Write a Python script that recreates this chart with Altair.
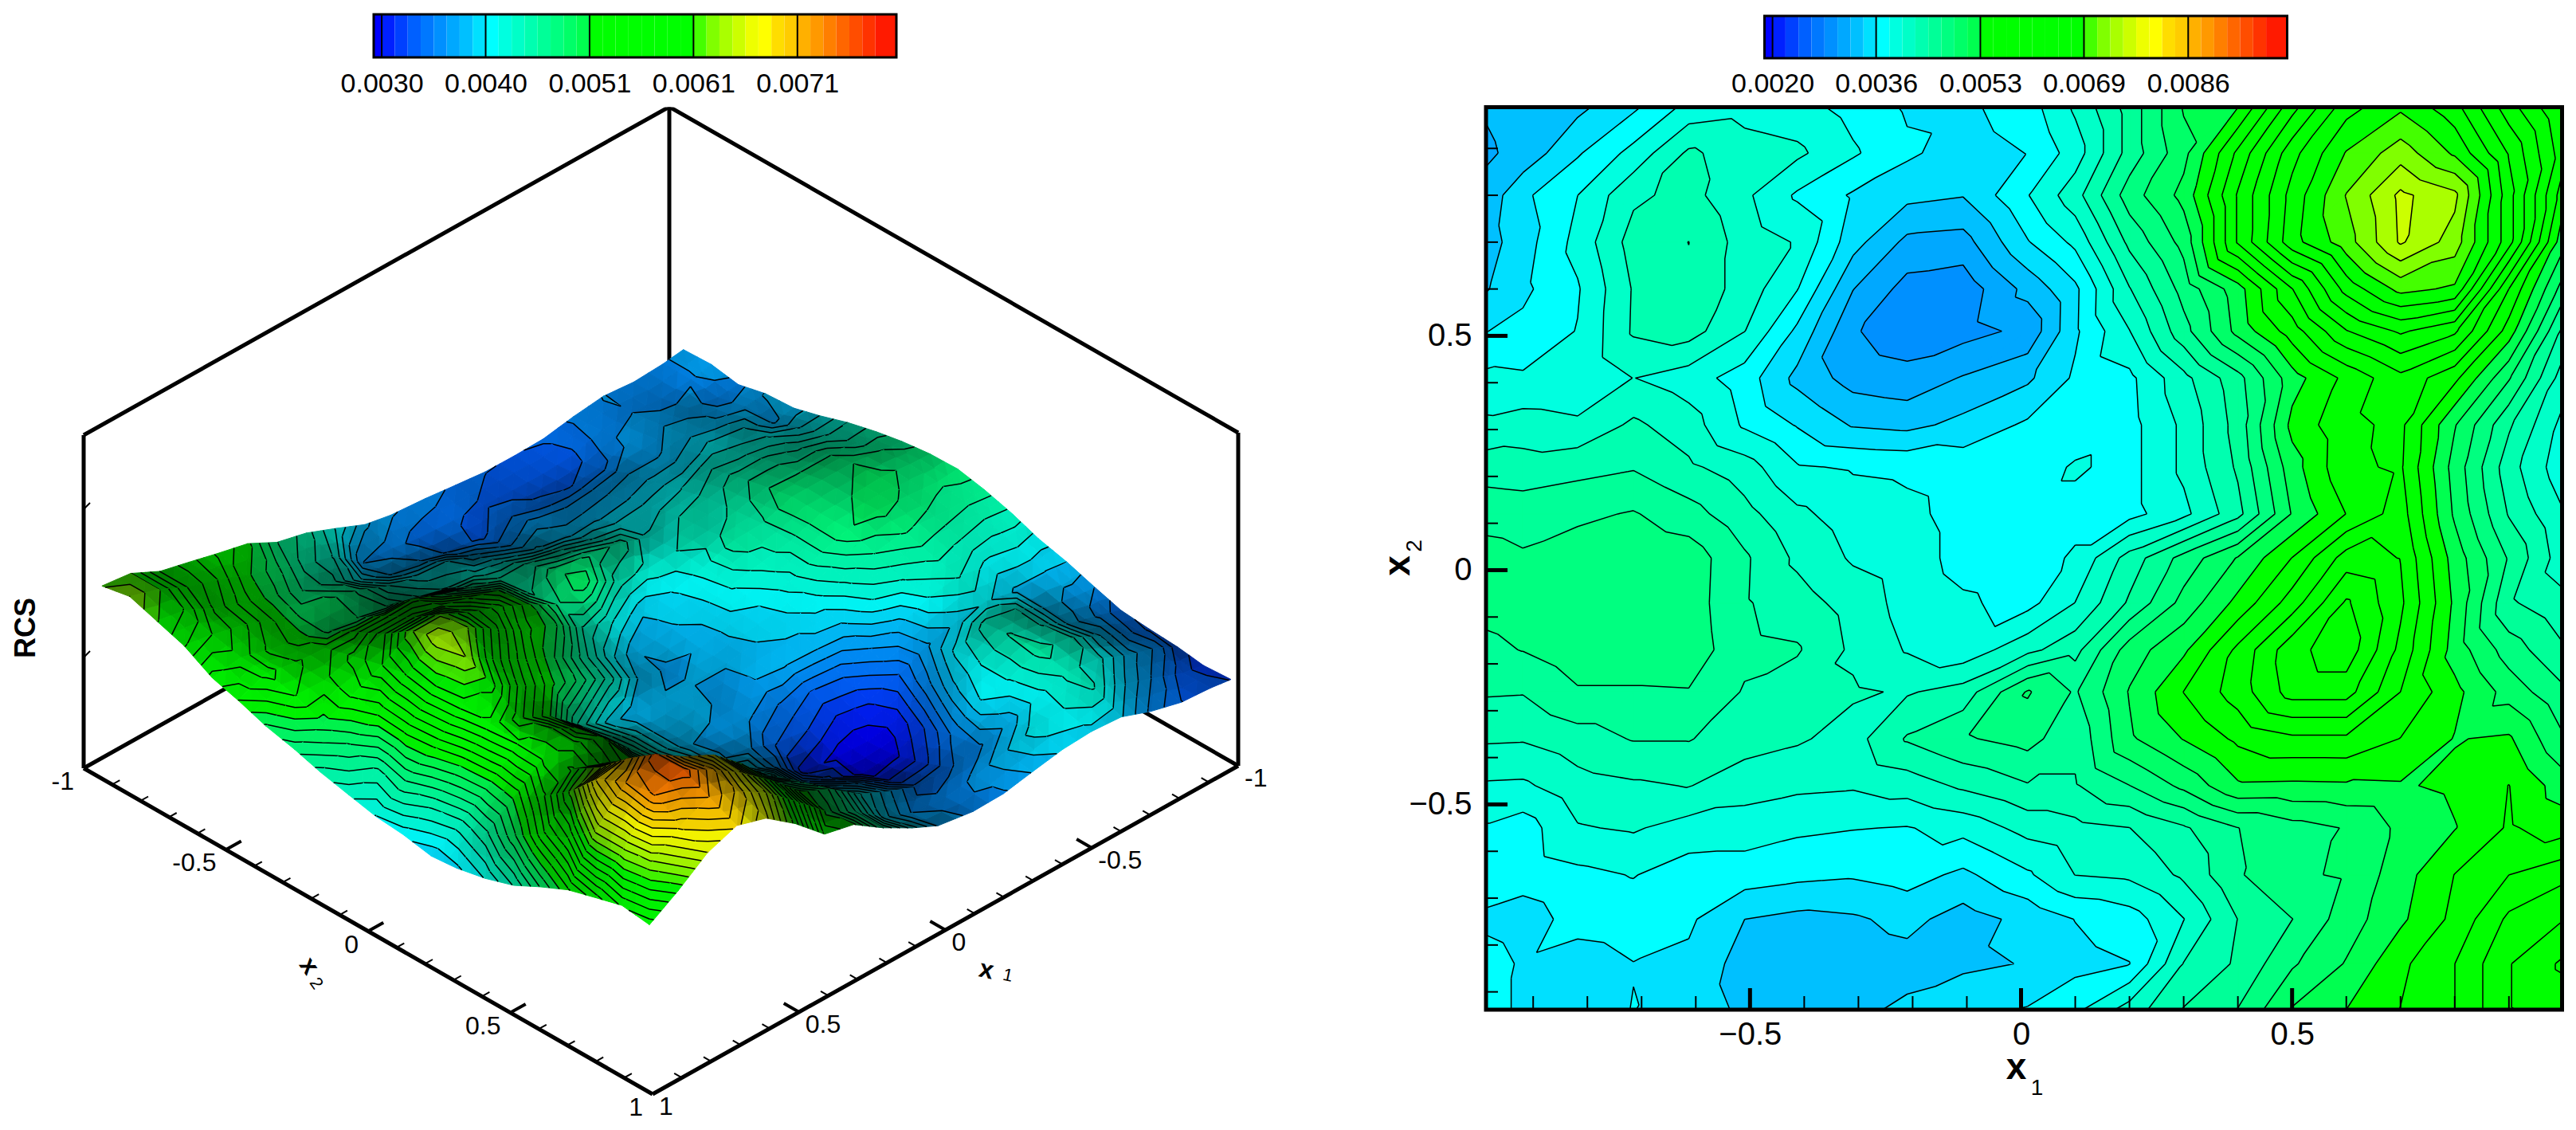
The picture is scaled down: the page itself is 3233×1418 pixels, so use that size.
import altair as alt
import numpy as np
import pandas as pd

# ---- data -----------------------------------------------------------------
X1 = [-0.988,-0.919,-0.818,-0.715,-0.613,-0.51,-0.413,-0.31,-0.21,-0.107,0.012,0.10,0.20,0.30,0.40,0.50,0.60,0.70,0.80,0.90,0.998]
X2 = [0.987,0.89,0.80,0.70,0.60,0.51,0.41,0.31,0.22,0.12,0.026,-0.07,-0.17,-0.26,-0.36,-0.46,-0.55,-0.65,-0.745,-0.84,-0.938]
# RCS x 1e4, one row per X2, one column per X1
RCS_E4 = [
[32.5,33.3,33.9,36.1,39.2,39.8,39.3,37.8,36.2,36.0,37.5,40.9,45.5,51.0,52.9,60.4,66.5,69.0,66.0,60.0,55.0],
[32.0,33.0,36.2,39.2,43.0,41.5,41.0,38.8,36.8,35.5,36.5,39.5,45.5,50.2,57.5,64.5,69.5,72.5,69.0,63.0,56.0],
[33.0,36.0,38.5,42.2,43.3,41.0,38.2,36.2,35.0,34.5,38.4,41.8,47.8,51.5,59.3,66.0,71.5,76.0,74.0,64.0,54.0],
[33.5,35.5,39.2,43.5,44.7,41.7,40.4,35.2,31.8,31.5,36.3,39.0,45.2,49.5,59.3,66.5,70.5,75.8,72.5,64.0,51.7],
[34.2,36.0,38.3,42.8,44.3,41.7,38.6,32.4,29.5,29.0,33.0,36.0,42.5,47.5,52.0,59.0,66.0,70.0,69.0,57.0,48.0],
[36.4,37.0,38.6,42.9,43.5,40.6,36.0,30.5,29.0,29.5,30.8,36.1,40.5,46.0,51.5,56.0,61.0,63.5,61.5,54.0,44.3],
[39.0,38.8,38.7,40.6,39.5,37.5,33.8,31.5,31.0,32.5,34.0,36.8,38.0,42.0,46.0,52.0,55.5,58.5,55.5,49.0,41.7],
[41.0,41.5,41.0,43.0,41.5,38.2,36.3,34.2,33.8,35.0,36.8,37.0,37.8,41.0,45.5,53.5,56.5,57.5,51.0,45.0,40.0],
[43.7,43.5,44.0,44.5,43.0,41.5,38.7,38.3,38.1,37.7,37.2,38.8,37.8,41.0,45.0,52.0,56.6,57.3,50.0,43.5,39.3],
[46.0,45.8,46.3,46.9,45.5,43.3,41.0,39.6,39.0,37.8,37.8,37.8,37.8,40.0,44.0,51.0,55.0,58.0,50.5,44.5,40.8],
[47.5,47.0,47.8,48.5,47.9,45.0,42.2,40.3,39.5,37.8,37.5,38.8,43.5,47.5,51.0,55.0,60.0,59.0,52.0,46.5,41.5],
[47.3,47.6,48.5,48.0,47.8,44.9,43.5,41.8,39.8,38.8,37.8,40.6,45.0,49.5,53.5,58.0,63.5,59.5,52.5,45.0,43.2],
[46.3,46.8,48.0,48.0,48.0,45.2,44.9,42.2,40.4,39.2,42.0,44.0,49.8,52.5,57.5,62.5,64.5,58.5,52.0,47.8,45.0],
[44.9,44.8,46.5,46.5,46.6,44.5,43.5,42.9,42.4,43.5,49.0,46.5,51.0,55.0,58.0,62.0,62.0,57.0,53.5,50.0,47.2],
[42.9,42.8,43.8,44.8,44.8,43.5,42.9,41.8,44.9,46.5,47.5,45.2,50.5,53.0,55.4,56.6,56.6,54.9,52.8,53.2,49.1],
[40.3,40.2,41.8,42.3,42.7,41.5,41.0,40.8,41.5,43.0,44.5,44.5,46.7,49.3,52.6,52.5,52.6,52.7,53.3,55.0,51.9],
[38.3,37.5,40.4,40.8,39.7,39.5,38.9,38.6,38.4,39.2,41.3,42.0,42.6,44.4,46.7,48.0,48.9,51.3,52.8,55.2,54.0],
[37.8,37.3,38.0,38.6,37.5,37.5,37.0,36.7,37.3,36.0,38.2,40.6,41.0,43.0,46.5,48.5,49.0,52.0,55.0,57.0,58.5],
[36.0,35.5,37.2,37.5,36.8,34.4,33.8,34.1,35.0,33.5,35.0,36.5,37.5,40.5,44.7,46.7,49.8,52.5,55.5,59.5,61.0],
[37.3,36.2,35.5,36.4,36.0,33.5,33.0,33.2,33.6,34.0,34.5,35.8,36.4,42.7,45.0,48.5,51.0,54.5,57.0,61.0,63.5],
[37.0,36.2,35.7,36.5,35.5,34.0,33.8,33.9,34.8,35.8,36.6,38.0,41.5,44.8,46.8,51.0,52.9,55.0,57.0,61.0,62.0],
]
LEFT_TICKS = [0.00300, 0.00403, 0.00506, 0.00609, 0.00712]     # 0.0030 ... 0.0071
RIGHT_TICKS = [0.00200, 0.00364, 0.00529, 0.00693, 0.00858]    # 0.0020 ... 0.0086
BAND_COLORS = ['#0000ff',
 '#0020ff','#0040ff','#0060ff','#0078ff','#0090ff','#00a8ff','#00c0ff','#00e0ff',
 '#00ffff','#00ffe0','#00ffc8','#00ffb0','#00ff98','#00ff80','#00ff68','#00ff50',
 '#00ff00','#00ff00','#00ff00','#00ff00','#00ff00','#00ff00','#00ff00','#00ff00',
 '#44ff00','#80ff00','#aaff00','#ccff00','#eeff00','#ffff00','#ffdd00','#ffcc00',
 '#ffb000','#ff9900','#ff7f00','#ff6600','#ff4d00','#ff3300','#ff1a00']
AXIS_TICKS = [-0.5, 0, 0.5]
MINOR_TICKS = [-0.9,-0.8,-0.7,-0.6,-0.4,-0.3,-0.2,-0.1,0.1,0.2,0.3,0.4,0.6,0.7,0.8,0.9]
CUBE_TICK_LABELS = [(-1,'-1'),(-0.5,'-0.5'),(0,'0'),(0.5,'0.5'),(1,'1')]

FONT = 'Liberation Sans'
Z = np.array(RCS_E4) * 1e-4
xs = np.array(X1)
ys = np.array(X2)
NR, NC = Z.shape

# ---- contour helpers ------------------------------------------------------
def clip_tri(poly, lev, keep_above):
    out = []
    n = len(poly)
    for i in range(n):
        p, q = poly[i], poly[(i + 1) % n]
        ip = (p[2] >= lev) == keep_above
        iq = (q[2] >= lev) == keep_above
        if ip:
            out.append(p)
        if ip != iq:
            t = (lev - p[2]) / (q[2] - p[2])
            out.append((p[0] + t*(q[0]-p[0]), p[1] + t*(q[1]-p[1]), lev))
    return out

def band_pieces(tri, levels):
    """yield (band index, polygon) with band -1 below levels[0]"""
    lo, hi = min(v[2] for v in tri), max(v[2] for v in tri)
    for b in range(-1, len(levels)):
        a = levels[b] if b >= 0 else -1e9
        c = levels[b+1] if b + 1 < len(levels) else 1e9
        if hi < a or lo >= c:
            continue
        poly = clip_tri(list(tri), a, True) if b >= 0 else list(tri)
        if poly and b + 1 < len(levels):
            poly = clip_tri(poly, c, False)
        if len(poly) >= 3:
            yield b, poly

def iso_segments(tri, levels):
    segs = []
    for lev in levels:
        pts = []
        for i in range(3):
            p, q = tri[i], tri[(i+1) % 3]
            if (p[2] >= lev) != (q[2] >= lev):
                t = (lev - p[2]) / (q[2] - p[2])
                pts.append((p[0] + t*(q[0]-p[0]), p[1] + t*(q[1]-p[1])))
        if len(pts) == 2:
            segs.append(pts)
    return segs

def make_levels(ticks):
    step = (ticks[-1] - ticks[0]) / (len(ticks) - 1) / 8
    return [ticks[0] + k*step for k in range(0, 39)], step

def ring(poly):
    r = [[round(p[0], 1), round(p[1], 1)] for p in poly]
    return r + [r[0]]

def feat(gtype, coords, fill, stroke, w):
    return {'type': 'Feature', 'geometry': {'type': gtype, 'coordinates': coords},
            'properties': {'fill': fill, 'stroke': stroke, 'w': w}}

def seg_coords(segs):
    return [[[round(a, 1), round(b, 1)] for a, b in s] for s in segs]

def triangles(px, py):
    for j in range(NR - 1):
        for i in range(NC - 1):
            a = (px[j, i], py[j, i], Z[j, i])
            b = (px[j, i+1], py[j, i+1], Z[j, i+1])
            c = (px[j+1, i+1], py[j+1, i+1], Z[j+1, i+1])
            d = (px[j+1, i], py[j+1, i], Z[j+1, i])
            yield j, i, (a, b, d), (b, c, d)

def colorbar(ticks, x0, x1, ytop, ybot, width):
    levels, step = make_levels(ticks)
    lo_all = ticks[0] - 0.62 * step
    hi_all = ticks[-1] + 7.62 * step
    scale = alt.Scale(domain=[lo_all, hi_all], range=[x0, x1])
    bar_axis = alt.Axis(values=ticks, format='.4f', title=None, ticks=False,
                domain=False, grid=False, labelFont=FONT, labelFontSize=34, labelColor='black',
                labelPadding=15, labelFlush=False)
    edges = [lo_all] + levels + [hi_all]
    df = pd.DataFrame({'lo': edges[:-1], 'hi': edges[1:], 'c': BAND_COLORS[:len(edges)-1]})
    bars = alt.Chart(df).mark_rect().encode(
        x=alt.X('lo:Q', scale=scale, axis=bar_axis), x2='hi:Q',
        y=alt.value(ytop), y2=alt.value(ybot),
        color=alt.Color('c:N', scale=None))
    rules = alt.Chart(pd.DataFrame({'v': ticks})).mark_rule(color='black', strokeWidth=2).encode(
        x=alt.X('v:Q', scale=scale, axis=bar_axis),
        y=alt.value(ytop), y2=alt.value(ybot))
    box = alt.Chart(pd.DataFrame({'a': [lo_all], 'b': [hi_all]})).mark_rect(
        fillOpacity=0, stroke='black', strokeWidth=3).encode(
        x=alt.X('a:Q', scale=scale, axis=bar_axis), x2='b:Q', y=alt.value(ytop), y2=alt.value(ybot))
    return alt.layer(bars, rules, box).properties(width=width, height=65)

# ---- right panel ----------------------------------------------------------
RW, RH = 1350.5, 1132.5
XDOM, YDOM = [-0.987, 0.998], [-0.938, 0.988]
rlevels, _ = make_levels(RIGHT_TICKS)
rpx = (np.tile(xs, (NR, 1)) - XDOM[0]) / (XDOM[1] - XDOM[0]) * RW
rpy = (YDOM[1] - np.tile(ys[:, None], (1, NC))) / (YDOM[1] - YDOM[0]) * RH
bands = {}
rsegs = []
for j, i, t1, t2 in triangles(rpx, rpy):
    for t in (t1, t2):
        for b, poly in band_pieces(t, rlevels):
            bands.setdefault(b, []).append([ring(poly)])
        rsegs += iso_segments(t, rlevels)
rfeat = [feat('MultiPolygon', polys, BAND_COLORS[b+1], BAND_COLORS[b+1], 1) for b, polys in sorted(bands.items())]
rfeat.append(feat('MultiLineString', seg_coords(rsegs), 'none', 'black', 1.5))

identity = dict(type='identity', scale=1, translate=[0, 0])
xscale = alt.Scale(domain=XDOM, nice=False, zero=False)
yscale = alt.Scale(domain=YDOM, nice=False, zero=False)
geo_enc = dict(fill=alt.Fill('properties.fill:N', scale=None),
               stroke=alt.Stroke('properties.stroke:N', scale=None),
               strokeWidth=alt.StrokeWidth('properties.w:Q', scale=None))
rgeo = alt.Chart(alt.Data(values=rfeat)).mark_geoshape().encode(**geo_enc).project(**identity)
major_df = pd.DataFrame({'v': AXIS_TICKS})
minor_df = pd.DataFrame({'v': MINOR_TICKS})
ax = dict(values=AXIS_TICKS, title=None, ticks=False, domain=False, grid=False, labelFont=FONT,
          labelFontSize=40, labelColor='black', format='~g')
xaxis = alt.Axis(labelPadding=11, **ax)
yaxis = alt.Axis(labelPadding=18, **ax)
xmaj = alt.Chart(major_df).mark_rule(color='black', strokeWidth=5).encode(
    x=alt.X('v:Q', scale=xscale, axis=xaxis),
    y=alt.value(RH), y2=alt.value(RH - 27))
ymaj = alt.Chart(major_df).mark_rule(color='black', strokeWidth=5).encode(
    y=alt.Y('v:Q', scale=yscale, axis=yaxis),
    x=alt.value(0), x2=alt.value(27))
xmin = alt.Chart(minor_df).mark_rule(color='black', strokeWidth=2).encode(
    x=alt.X('v:Q', scale=xscale, axis=xaxis), y=alt.value(RH), y2=alt.value(RH - 17))
ymin = alt.Chart(minor_df).mark_rule(color='black', strokeWidth=2).encode(
    y=alt.Y('v:Q', scale=yscale, axis=yaxis), x=alt.value(0), x2=alt.value(15))
frame = alt.Chart(pd.DataFrame({'a': [0]})).mark_rect(fillOpacity=0, stroke='black', strokeWidth=5).encode(
    x=alt.value(0), x2=alt.value(RW), y=alt.value(0), y2=alt.value(RH))

def label(text, px, py, size, bold=False, angle=0, align='center'):
    return alt.Chart(pd.DataFrame({'t': [text]})).mark_text(
        font=FONT, fontSize=size, fontWeight='bold' if bold else 'normal', angle=angle, color='black',
        align=align, baseline='middle').encode(x=alt.value(px), y=alt.value(py), text='t:N')

ORX, ORY = 1864.5, 134.5
rtitles = [
    label('x', 2530 - ORX, 1340 - ORY, 46, True),
    label('1', 2556 - ORX, 1366 - ORY, 28),
    label('x', 1754 - ORX, 710 - ORY, 46, True, 270),
    label('2', 1775 - ORX, 685 - ORY, 28, False, 270),
]
right_plot = alt.layer(rgeo, xmin, ymin, xmaj, ymaj, frame, *rtitles).properties(width=RW, height=RH)
right_bar = colorbar(RIGHT_TICKS, 2214 - ORX, 2870 - ORX, 12, 65, RW)

# ---- left panel: projected surface ----------------------------------------
LW, LH = 1856.5, 1270
BACK = np.array([840.0, 552.0]); LEFTC = np.array([105.0, 964.0]); RIGHTC = np.array([1554.0, 961.0])
DA = (LEFTC - BACK) / 2
DB = (RIGHTC - BACK) / 2
def base(x1, x2):
    return BACK + DA * (x1 + 1) + DB * (x2 + 1) - np.array([8.0, ORY])
def height(z):
    return 115 + 45000 * (z - 0.0034)

G1 = np.tile(xs, (NR, 1))
G2 = np.tile(ys[:, None], (1, NC))
lpx = base(0, 0)[0] + DA[0] * G1 + DB[0] * G2
lpy = base(0, 0)[1] + DA[1] * G1 + DB[1] * G2 - height(Z)

# soft shading from the surface normal, viewed from the front corner
H = height(Z) / 0.825
dHdB, dHdA = np.gradient(H, ys * 255, xs * 258)
nz = 1 / np.sqrt(dHdA**2 + dHdB**2 + 1)
ndv = nz * (-dHdA * 0.825 / np.sqrt(2) - dHdB * 0.825 / np.sqrt(2) + 0.565)
SHADE = np.clip(0.36 + 0.72 * ndv, 0.28, 0.95)

def shaded(hexcol, s):
    r, g, b = int(hexcol[1:3], 16), int(hexcol[3:5], 16), int(hexcol[5:7], 16)
    return '#%02x%02x%02x' % (int(r*s), int(g*s), int(b*s))

llevels, _ = make_levels(LEFT_TICKS)
lfeat = []
def edge(p, q, w=5):
    return feat('LineString', [[round(p[0],1), round(p[1],1)], [round(q[0],1), round(q[1],1)]], 'none', 'black', w)
ZTOP = 418
pL, pR, pB, pK = base(1, -1), base(-1, 1), base(1, 1), base(-1, -1)
up = np.array([0, -ZTOP])
lfeat += [edge(pL, pB), edge(pB, pR), edge(pK, pL), edge(pK, pR),
          edge(pL, pL + up), edge(pR, pR + up), edge(pK, pK + up),
          edge(pL + up, pK + up), edge(pK + up, pR + up)]
toA = (pK - pL) / np.linalg.norm(pK - pL)
toB = (pK - pR) / np.linalg.norm(pK - pR)
for t in AXIS_TICKS + MINOR_TICKS:
    size = 22 if t in AXIS_TICKS else 11
    w = 4 if t in AXIS_TICKS else 2
    p = base(1, t); lfeat.append(edge(p, p + toA * size, w))
    p = base(t, 1); lfeat.append(edge(p, p + toB * size, w))
for pz in (325, 139):
    p = pL + np.array([0, -pz]); lfeat.append(edge(p, p + np.array([8, -8]), 2))

def subdivide(tri, sh):
    """split a flat triangle in four so that the shade can vary smoothly over it"""
    mid = lambda u, v: tuple((np.array(u) + np.array(v)) / 2)
    ab, bc, ca = mid(tri[0], tri[1]), mid(tri[1], tri[2]), mid(tri[2], tri[0])
    sab, sbc, sca = (sh[0]+sh[1])/2, (sh[1]+sh[2])/2, (sh[2]+sh[0])/2
    return [((tri[0], ab, ca), (sh[0]+sab+sca)/3), ((ab, tri[1], bc), (sab+sh[1]+sbc)/3),
            ((ca, bc, tri[2]), (sca+sbc+sh[2])/3), ((ab, bc, ca), (sab+sbc+sca)/3)]

# paint from the back corner to the front corner
by_depth = {}
for j, i, t1, t2 in triangles(lpx, lpy):
    d = i + (NR - 2 - j)
    by_depth.setdefault(d, []).append((t1, (SHADE[j, i], SHADE[j, i+1], SHADE[j+1, i])))
    by_depth.setdefault(d, []).append((t2, (SHADE[j, i+1], SHADE[j+1, i+1], SHADE[j+1, i])))
for d in sorted(by_depth):
    segs = []
    for tri, sh in by_depth[d]:
        for sub, s in subdivide(tri, sh):
            for b, poly in band_pieces(sub, llevels):
                col = shaded(BAND_COLORS[b+1], s)
                lfeat.append(feat('Polygon', [ring(poly)], col, col, 1))
        segs += iso_segments(tri, llevels)
    if segs:
        lfeat.append(feat('MultiLineString', seg_coords(segs), 'none', 'black', 1.5))

lgeo = alt.Chart(alt.Data(values=lfeat)).mark_geoshape().encode(**geo_enc).project(**identity)

rows = []
for v, t in CUBE_TICK_LABELS:
    p = base(1, v); rows.append({'px': p[0] - 12, 'py': p[1] + 17, 't': t, 'side': 'L'})
    p = base(v, 1); rows.append({'px': p[0] + 8, 'py': p[1] + 16, 't': t, 'side': 'R'})
lab = pd.DataFrame(rows)
def side_text(side, align):
    return alt.Chart(lab[lab.side == side]).mark_text(font=FONT, fontSize=32, color='black', align=align,
        baseline='middle').encode(x=alt.X('px:Q', scale=None), y=alt.Y('py:Q', scale=None), text='t:N')

ltitles = [
    label('RCS', 33 - 8, 788 - ORY, 36, True, 270),
    label('x', 388 - 8, 1212 - ORY, 32, True, 55),
    label('2', 397 - 8, 1234 - ORY, 22, False, 55),
    label('x', 1238 - 8, 1217 - ORY, 32, True, 12),
    label('1', 1265 - 8, 1224 - ORY, 22, False, 12),
]
left_plot = alt.layer(lgeo, side_text('L', 'right'), side_text('R', 'left'), *ltitles).properties(width=LW, height=LH)
left_bar = colorbar(LEFT_TICKS, 469 - 8, 1125 - 8, 10, 64, LW)

chart = alt.concat(left_bar, right_bar, left_plot, right_plot, columns=2,
                   spacing={'row': 61.5, 'column': 0}, bounds='flush').properties(
    padding=0, background='white'
).configure_view(stroke=None)

chart.save("out.html", embed_options={"renderer": "svg", "actions": False})
